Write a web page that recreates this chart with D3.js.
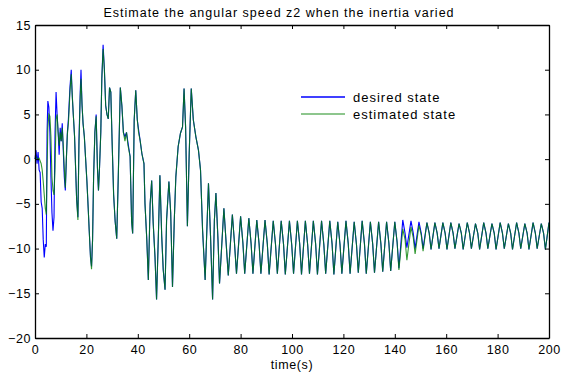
<!DOCTYPE html>
<html>
<head>
<meta charset="utf-8">
<script src="https://cdn.jsdelivr.net/npm/d3@7"></script>
<style>
  body { margin: 0; background: #fff; }
  text { font-family: "Liberation Sans", Arial, sans-serif; }
</style>
</head>
<body>
<div id="chart"></div>
<script>
// turning points (time in s, speed)
const time = [
  0.0, 0.4, 0.8, 1.2, 1.6, 2.0, 2.4, 2.8, 3.2, 3.6, 4.0, 4.4, 4.7, 5.0, 5.4, 5.8, 6.2, 6.6, 7.0, 7.4,
  7.8, 8.2, 8.6, 9.0, 9.4, 9.8, 10.2, 10.6, 11.0, 11.4, 11.8, 12.2, 12.6, 13.0, 13.6, 14.1, 14.5, 14.9, 15.4, 15.8,
  16.2, 16.7, 17.1, 17.6, 17.9, 18.3, 18.7, 19.2, 19.7, 20.2, 20.7, 21.1, 21.6, 22.0, 22.4, 22.8, 23.3, 23.8, 24.3, 24.7,
  25.1, 25.6, 26.0, 26.5, 27.0, 27.5, 28.0, 28.5, 29.0, 29.5, 30.0, 30.6, 31.2, 31.8, 32.4, 33.2, 33.8, 34.4, 35.0, 35.6,
  36.2, 37.0, 37.6, 38.0, 38.6, 39.2, 39.8, 40.3, 40.9, 41.6, 42.4, 42.8, 43.5, 44.1, 44.8, 45.4, 46.0, 46.7, 47.3, 48.0,
  48.6, 49.3, 49.9, 50.6, 51.2, 52.1, 52.8, 53.5, 54.2, 54.8, 55.7, 56.6, 57.4, 58.0, 58.6, 59.3, 60.0, 60.8, 61.6, 62.6,
  63.6, 64.4, 65.2, 66.2, 67.0, 67.5, 68.3, 69.1, 69.8,
  70.4, 71.2, 71.8, 73.5, 74.4, 75.2, 76.8, 77.6, 78.4, 80.0, 80.9, 81.6, 83.2, 84.1, 84.8, 86.3, 87.2, 87.9,
  89.5, 90.4, 91.1, 92.7, 93.6, 94.3, 95.8, 96.7, 97.4, 99.0, 99.9, 100.6, 102.1, 103.0, 103.7, 105.2, 106.1, 106.8,
  108.3, 109.2, 109.9, 111.5, 112.4, 113.1, 114.7, 115.6, 116.3, 117.8, 118.7, 119.4, 121.0, 121.9, 122.6,
  124.2, 125.1, 125.8, 127.3, 128.2, 128.9, 130.5, 131.4, 132.1, 133.7, 134.6, 135.3, 136.8, 137.7, 138.4,
  140.0, 140.9, 141.6, 143.1, 144.0, 144.7, 146.3, 147.2, 147.9, 149.4, 150.3, 151.0, 152.5, 153.4, 154.1,
  155.6, 156.5, 157.2, 158.7, 159.6, 160.3, 161.8, 162.7, 163.4, 165.0, 165.9, 166.6, 168.2, 169.1, 169.8,
  171.4, 172.3, 173.0, 174.6, 175.5, 176.2, 177.8, 178.7, 179.4, 181.0, 181.9, 182.6, 184.2, 185.1, 185.8,
  187.4, 188.3, 189.0, 190.6, 191.5, 192.2, 193.8, 194.7, 195.4, 197.0, 197.9, 198.6, 200.0
];

const desired = [
  0.0, 1.0, -0.5, 0.8, -1.2, -1.5, -4.8, -5.5, -9.0, -11.0, -9.5, -9.8, 3.0, 6.5, 5.8, 3.0, -2.0, -6.0, -8.0, -6.5,
  3.0, 7.5, 5.0, 3.0, 0.5, 3.5, 2.0, 4.0, 1.0, -2.0, -3.5, 0.0, 3.0, 4.5, 8.0, 10.0, 7.0, 5.0, 2.5, -1.0,
  -4.5, -6.5, 2.0, 7.5, 10.0, 6.0, 4.0, 2.5, 0.0, -2.5, -5.5, -8.0, -11.0, -12.0, -9.0, -2.0, 3.0, 5.0, -1.0, -3.5,
  -1.0, 3.0, 9.0, 12.8, 10.0, 6.0, 5.0, 4.5, 8.0, 7.5, 2.0, -4.0, -7.0, -8.9, -2.0, 8.0, 6.0, 3.0, 2.5, 3.0,
  1.8, 0.3, -7.0, -8.3, 4.4, 7.7, 4.4, 3.3, 2.1, 0.6, -0.5, -5.0, -9.0, -13.5, -5.0, -2.4, -7.2, -11.0, -15.7, -8.6,
  -1.8, -8.6, -12.4, -14.6, -6.8, -2.5, -6.0, -14.3, -6.8, -2.0, 1.4, 2.9, 3.6, 7.9, 3.6, -7.5, 0.6, 7.9, 4.4, 2.5,
  1.0, -1.2, -7.9, -13.5, -6.8, -2.7, -8.6, -15.7, -6.8,
  -3.8, -9.0, -13.9, -5.5, -9.5, -13.0, -6.2, -9.3, -12.8, -6.4, -9.4, -12.8, -6.6, -9.5, -12.8, -6.8, -9.5, -12.8,
  -6.8, -9.5, -12.9, -6.9, -9.6, -12.8, -6.9, -9.5, -12.9, -6.9, -9.6, -12.8, -6.9, -9.5, -12.9, -6.9, -9.6, -12.8,
  -6.9, -9.5, -12.9, -6.9, -9.6, -12.8, -6.9, -9.5, -12.9, -7.0, -9.6, -12.8, -6.9, -9.5, -12.8,
  -7.0, -9.6, -12.7, -6.9, -9.5, -12.8, -7.0, -9.5, -12.7, -7.0, -9.5, -12.6, -7.0, -9.4, -12.5,
  -7.0, -9.3, -12.2, -6.8, -8.3, -9.9, -6.9, -8.3, -10.0, -7.0, -8.3, -10.0, -7.1, -8.3, -10.1,
  -7.1, -8.3, -10.0, -7.1, -8.3, -10.1, -7.1, -8.3, -10.0, -7.2, -8.3, -10.1, -7.1, -8.3, -10.0,
  -7.2, -8.3, -10.1, -7.1, -8.3, -10.0, -7.2, -8.3, -10.1, -7.1, -8.3, -10.0, -7.2, -8.3, -10.1,
  -7.1, -8.3, -10.0, -7.2, -8.3, -10.1, -7.1, -8.3, -10.0, -7.2, -8.3, -10.1, -7.1
];

const estimated = [
  0.0, 0.3, 0.1, 0.0, 0.1, -0.2, -0.5, -1.2, -2.5, -4.0, -5.5, -6.2, -1.0, 3.5, 5.0, 4.8, 2.5, -2.0, -3.5, -4.0,
  -1.0, 4.5, 5.0, 3.0, 1.5, 3.0, 2.0, 3.5, 1.5, -1.0, -3.2, 0.0, 2.8, 4.0, 7.5, 9.5, 7.2, 5.0, 2.5, -1.0,
  -4.5, -6.8, 1.5, 7.0, 9.0, 6.2, 4.0, 2.5, 0.0, -2.5, -5.5, -8.0, -11.0, -12.3, -9.0, -2.0, 3.0, 4.8, -1.0, -3.5,
  -1.0, 3.0, 9.0, 12.3, 10.0, 6.0, 5.0, 4.5, 8.0, 7.5, 2.0, -4.0, -7.0, -8.9, -2.0, 8.0, 6.0, 3.0, 2.0, 3.0,
  1.5, 0.3, -7.0, -8.3, 4.4, 7.7, 4.4, 3.0, 2.1, 0.6, -0.5, -5.0, -9.0, -13.5, -5.0, -2.4, -7.2, -11.0, -15.7, -8.6,
  -1.8, -8.6, -12.4, -14.6, -6.8, -2.5, -6.0, -14.3, -6.8, -2.0, 1.4, 2.9, 3.6, 7.9, 3.6, -7.5, 0.6, 7.9, 4.4, 2.5,
  1.0, -1.2, -7.9, -13.5, -6.8, -2.7, -8.6, -15.7, -6.8,
  -3.8, -9.0, -13.9, -5.5, -9.5, -13.0, -6.2, -9.3, -12.8, -6.4, -9.4, -12.8, -6.6, -9.5, -12.8, -6.8, -9.5, -12.8,
  -6.8, -9.5, -12.9, -6.9, -9.6, -12.8, -6.9, -9.5, -12.9, -6.9, -9.6, -12.8, -6.9, -9.5, -12.9, -6.9, -9.6, -12.8,
  -6.9, -9.5, -12.9, -6.9, -9.6, -12.8, -6.9, -9.5, -12.9, -7.0, -9.6, -12.8, -6.9, -9.5, -12.8,
  -7.0, -9.6, -12.7, -6.9, -9.5, -12.8, -7.0, -9.5, -12.7, -7.0, -9.5, -12.6, -7.0, -9.4, -12.5,
  -7.0, -9.3, -12.4, -7.8, -9.0, -11.3, -7.6, -8.8, -10.6, -7.4, -8.5, -10.3, -7.1, -8.3, -10.1,
  -7.1, -8.3, -10.0, -7.1, -8.3, -10.1, -7.1, -8.3, -10.0, -7.2, -8.3, -10.1, -7.1, -8.3, -10.0,
  -7.2, -8.3, -10.1, -7.1, -8.3, -10.0, -7.2, -8.3, -10.1, -7.1, -8.3, -10.0, -7.2, -8.3, -10.1,
  -7.1, -8.3, -10.0, -7.2, -8.3, -10.1, -7.1, -8.3, -10.0, -7.2, -8.3, -10.1, -7.1
];

const xTicks = [0, 20, 40, 60, 80, 100, 120, 140, 160, 180, 200];
const yTicks = [-20, -15, -10, -5, 0, 5, 10, 15];
const seriesNames = ["desired state", "estimated state"];
const seriesColors = ["#0000ff", "#008000"];

const W = 564, H = 374;
const L = 35, R = 549, T = 25, B = 338;

const svg = d3.select("#chart").append("svg")
  .attr("width", W)
  .attr("height", H);

const x = d3.scaleLinear().domain([0, 200]).range([L, R]);
const y = d3.scaleLinear().domain([-20, 15]).range([B, T]);

const line = (vals) => d3.line()
  .x((d, i) => x(time[i]))
  .y(d => y(d))(vals);

const plot = svg.append("g");
plot.append("path")
  .attr("d", line(desired))
  .attr("fill", "none")
  .attr("stroke", seriesColors[0])
  .attr("stroke-width", 1.1);
plot.append("path")
  .attr("d", line(estimated))
  .attr("fill", "none")
  .attr("stroke", seriesColors[1])
  .attr("stroke-opacity", 0.8)
  .attr("stroke-width", 1.1);

// axes, ticks pointing inward, box on all four sides
const styleAxis = g => {
  g.select(".domain").attr("stroke", "#000").attr("stroke-width", 1.3);
  g.selectAll(".tick line").attr("stroke", "#000");
  g.selectAll(".tick text").attr("fill", "#000")
    .style("font-family", '"Liberation Sans", Arial, sans-serif')
    .style("font-size", "12.5px")
    .style("letter-spacing", "0.6px");
};

svg.append("g")
  .attr("transform", `translate(0,${B})`)
  .call(d3.axisBottom(x).tickValues(xTicks).tickSize(-4).tickPadding(7).tickSizeOuter(0))
  .call(styleAxis);
svg.append("g")
  .attr("transform", `translate(0,${T})`)
  .call(d3.axisTop(x).tickValues(xTicks).tickSize(-4).tickFormat("").tickSizeOuter(0))
  .call(styleAxis);
svg.append("g")
  .attr("transform", `translate(${L},0)`)
  .call(d3.axisLeft(y).tickValues(yTicks).tickSize(-4).tickPadding(4).tickSizeOuter(0))
  .call(styleAxis);
svg.append("g")
  .attr("transform", `translate(${R},0)`)
  .call(d3.axisRight(y).tickValues(yTicks).tickSize(-4).tickFormat("").tickSizeOuter(0))
  .call(styleAxis);

svg.append("text")
  .attr("x", 279)
  .attr("y", 17)
  .attr("text-anchor", "middle")
  .style("font-size", "12.5px")
  .style("letter-spacing", "1px")
  .text("Estimate the angular speed z2 when the inertia varied");

svg.append("text")
  .attr("x", (L + R) / 2)
  .attr("y", 369)
  .attr("text-anchor", "middle")
  .style("font-size", "12.5px")
  .style("letter-spacing", "0.6px")
  .text("time(s)");

// legend
const legend = svg.append("g");
seriesNames.forEach((name, i) => {
  const ly = 97 + i * 17;
  legend.append("line")
    .attr("x1", 301).attr("x2", 345)
    .attr("y1", ly).attr("y2", ly)
    .attr("stroke", seriesColors[i])
    .attr("stroke-opacity", i === 1 ? 0.6 : 1)
    .attr("stroke-width", 1.3);
  legend.append("text")
    .attr("x", 353)
    .attr("y", ly + 4.5)
    .style("font-size", "13px")
    .style("letter-spacing", "1px")
    .text(name);
});
</script>
</body>
</html>
